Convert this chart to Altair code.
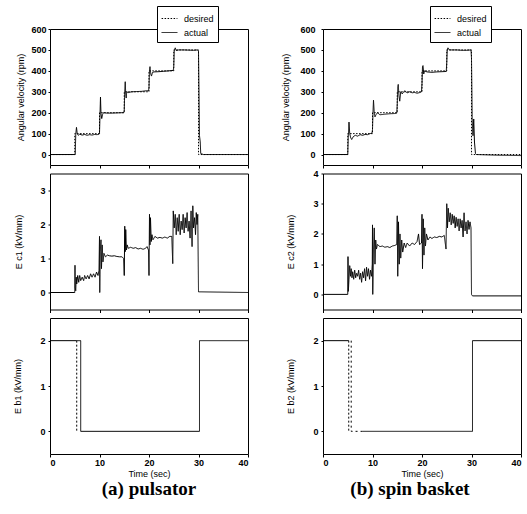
import altair as alt
import pandas as pd

# ---------------- data ----------------
# desired angular velocity (rpm), step profile (same for both machines)
DES_T = [0, 5, 5, 10, 10, 15, 15, 20, 20, 25, 25, 30, 30, 40]
DES_V = [0, 0, 100, 100, 200, 200, 300, 300, 400, 400, 500, 500, 0, 0]

# (a) pulsator: actual angular velocity
PA_T = [0, 5.0, 5.1, 5.2, 5.35, 5.5, 5.7, 6, 6.5, 7, 7.5, 8, 8.5, 9, 9.5, 9.9,
        10.0, 10.1, 10.2, 10.3, 10.45, 10.6, 10.8, 11.5, 12.5, 13.5, 14.5, 14.9,
        15.0, 15.1, 15.2, 15.3, 15.4, 15.5, 15.8, 16.5, 17.5, 18.5, 19.5, 19.9,
        20.0, 20.1, 20.2, 20.35, 20.5, 20.7, 21, 22, 23, 24, 24.9,
        25.0, 25.1, 25.3, 25.5, 26, 27, 28, 29, 29.8, 30.0, 30.1, 30.2, 30.35, 30.45, 31, 40]
PA_V = [0, 0, 0, 95, 130, 100, 92, 97, 93, 96, 92, 95, 93, 96, 95, 97,
        100, 190, 275, 195, 172, 190, 200, 198, 198, 199, 200, 200,
        210, 300, 348, 290, 270, 300, 296, 300, 301, 302, 305, 305,
        320, 405, 420, 385, 375, 392, 395, 396, 398, 400, 402,
        420, 495, 510, 497, 500, 500, 499, 498, 500, 495, 300, 90, 60, 5, 0, 0]

# (b) spin basket: actual angular velocity
SA_T = [0, 5.0, 5.1, 5.25, 5.4, 5.6, 5.8, 6.1, 6.5, 7, 7.5, 8, 8.5, 9, 9.5, 9.9,
        10.0, 10.1, 10.2, 10.35, 10.5, 10.7, 11, 11.5, 12.5, 13.5, 14.5, 14.9,
        15.0, 15.1, 15.2, 15.35, 15.5, 15.7, 16, 16.5, 17, 17.5, 18, 18.5, 19, 19.5, 19.9,
        20.0, 20.1, 20.2, 20.35, 20.5, 21, 22, 23, 24, 24.9,
        25.0, 25.1, 25.25, 25.5, 26, 27, 28, 29, 29.9, 30.0, 30.15, 30.3, 30.45, 30.6, 30.8, 31, 35, 40]
SA_V = [0, 0, 80, 155, 100, 80, 72, 85, 92, 88, 95, 92, 96, 95, 100, 102,
        120, 200, 260, 200, 180, 190, 200, 190, 193, 195, 196, 198,
        240, 320, 335, 280, 255, 300, 290, 305, 295, 300, 295, 297, 293, 296, 300,
        340, 420, 425, 385, 400, 395, 393, 395, 396, 397,
        440, 500, 510, 500, 500, 500, 498, 498, 500, 460, 160, 90, 170, 60, 5, 0, -3, -5]

# (a) pulsator: E_c1 (kV/mm)
C1_T = [0, 5.0, 5.05, 5.1, 5.2, 5.3, 5.4, 5.6, 5.8, 6.0, 6.2, 6.5, 6.8, 7.0, 7.3, 7.6, 7.9,
        8.2, 8.5, 8.8, 9.1, 9.4, 9.7, 9.9,
        10.0, 10.05, 10.15, 10.3, 10.4, 10.55, 10.7, 10.9, 11.2, 11.6, 12, 12.5, 13, 13.5, 14,
        14.5, 14.9, 15.0,
        15.1, 15.2, 15.3, 15.45, 15.6, 15.8, 16.3, 16.8, 17.3, 17.8, 18.3, 18.8, 19.3, 19.6,
        19.9, 20.0,
        20.1, 20.2, 20.3, 20.45, 20.6, 20.8, 21.2, 21.7, 22.2, 22.7, 23.2, 23.7, 24.2, 24.6,
        24.8, 24.9, 25.1, 25.3, 25.5, 25.7, 25.9, 26.1, 26.3, 26.5, 26.7, 26.9, 27.1, 27.3,
        27.5, 27.7, 27.9, 28.1, 28.3, 28.5, 28.7, 28.85, 29.0, 29.2, 29.4, 29.55, 29.7, 29.85,
        30.0, 40]
C1_V = [0, 0, 0.8, 0.15, 0.05, 0.45, 0.25, 0.5, 0.3, 0.5, 0.35, 0.45, 0.35, 0.5, 0.4, 0.5, 0.4,
        0.55, 0.45, 0.55, 0.45, 0.6, 0.5, 0.65,
        1.65, 0.0, 1.2, 1.55, 0.7, 1.4, 0.9, 1.15, 1.05, 1.1, 1.08, 1.07, 1.08, 1.06, 1.05,
        1.05, 1.0, 0.5,
        1.95, 1.2, 1.85, 1.25, 1.4, 1.3, 1.33, 1.3, 1.32, 1.28, 1.3, 1.27, 1.3, 1.35,
        1.25, 0.5,
        2.3, 1.4, 2.2, 1.5, 1.7, 1.55, 1.65, 1.6, 1.62, 1.6, 1.63, 1.6, 1.65, 1.65,
        0.85, 2.4, 1.9, 2.3, 1.7, 2.2, 1.8, 2.3, 1.7, 2.1, 1.85, 2.3, 1.75, 2.2,
        1.9, 2.35, 1.8, 2.1, 1.6, 2.4, 1.35, 2.55, 1.9, 2.2, 1.7, 2.35, 2.0, 2.3,
        0.02, 0]

# (b) spin basket: E_c2 (kV/mm)
C2_T = [0, 5.0, 5.05, 5.12, 5.25, 5.4, 5.55, 5.7, 5.85, 6.0, 6.2, 6.4, 6.6, 6.8, 7.0, 7.2,
        7.4, 7.6, 7.8, 8.0, 8.2, 8.4, 8.6, 8.8, 9.0, 9.2, 9.4, 9.6, 9.8, 9.95,
        10.0, 10.05, 10.2, 10.35, 10.5, 10.65, 10.8, 11, 11.5, 12, 12.5, 13, 13.5, 14, 14.5, 14.9,
        15.0, 15.1, 15.25, 15.4, 15.55, 15.7, 15.9, 16.1, 16.4, 16.7, 17, 17.5, 18, 18.5, 19.0,
        19.3, 19.5, 19.9,
        20.0, 20.1, 20.25, 20.4, 20.55, 20.7, 20.9, 21.2, 21.6, 22, 22.5, 23, 23.5, 24, 24.5, 24.85,
        25.0, 25.15, 25.3, 25.5, 25.7, 25.9, 26.1, 26.3, 26.5, 26.7, 26.9, 27.1, 27.3, 27.5,
        27.7, 27.9, 28.1, 28.3, 28.5, 28.7, 28.9, 29.1, 29.3, 29.5, 29.7, 29.9,
        30.0, 30.2, 40]
C2_V = [0, 0, 1.25, 0.1, 0.5, 0.95, 0.6, 0.85, 0.55, 0.75, 0.5, 0.8, 0.55, 0.7, 0.6, 0.8,
        0.5, 0.7, 0.4, 0.75, 0.55, 0.85, 0.45, 0.9, 0.6, 0.85, 0.5, 0.8, 0.6, 1.0,
        2.3, 0.0, 1.5, 2.2, 1.0, 1.8, 1.5, 1.65, 1.58, 1.6, 1.56, 1.58, 1.55, 1.6, 1.62, 1.65,
        2.6, 0.6, 2.4, 1.0, 2.0, 1.2, 1.8, 1.4, 1.7, 1.55, 1.7, 1.6, 1.7, 1.65, 1.75,
        2.0, 1.65, 1.7,
        2.65, 0.85, 2.5, 1.3, 2.2, 1.6, 2.0, 1.8, 1.9, 1.85, 1.9, 1.88, 1.92, 1.9, 1.95, 1.5,
        3.0, 2.2, 2.85, 2.4, 2.7, 2.3, 2.65, 2.35, 2.6, 2.2, 2.55, 2.25, 2.5, 2.1,
        2.5, 2.2, 2.45, 1.9, 2.7, 2.1, 2.4, 2.0, 2.45, 2.15, 2.4, 2.2,
        0.0, -0.05, -0.05]

# (a) pulsator: E_b1 (kV/mm), piecewise segments
B1_SEG = ["s1", "s1", "d1", "d1", "s2", "s2", "s2", "s2", "s2", "s2"]
B1_T = [0, 5.4, 5.4, 5.4, 5.4, 6.2, 6.2, 30.2, 30.2, 40]
B1_V = [2, 2, 2, 0, 2, 2, 0, 0, 2, 2]

# (b) spin basket: E_b2 (kV/mm), piecewise segments
B2_SEG = ["s1", "s1", "d1", "d1", "d2", "d2", "d2", "s2", "s2", "s2", "s2"]
B2_T = [0, 5.2, 5.2, 5.2, 5.7, 5.7, 8, 8, 30.2, 30.2, 40]
B2_V = [2, 2, 2, 0, 2, 0, 0, 0, 0, 2, 2]

SERIES = ["desired", "actual"]
SEGS = ["s1", "s2", "d1", "d2"]
X_TICKS = [0, 10, 20, 30, 40]


def frame(parts):
    rows = []
    for name, ts, vs in parts:
        for i, (t, v) in enumerate(zip(ts, vs)):
            rows.append({"t": t, "v": v, "series": name, "i": i})
    return pd.DataFrame(rows)


def seg_frame(segs, ts, vs):
    return pd.DataFrame({"t": ts, "v": vs, "series": segs, "i": list(range(len(ts)))})


LEGEND = alt.Legend(
    orient="none", legendX=107, legendY=-23, title=None,
    strokeColor="black", fillColor="white", padding=4,
    symbolType="stroke", symbolSize=250, symbolStrokeWidth=1,
    symbolStrokeColor="black", labelFont="Liberation Sans",
    labelFontSize=9, rowPadding=0, labelOffset=6,
)


def panel(df, ydom, yvals, ytitle, title_x, label_pad, bottom=False,
          kind="vel", caption=None, cap_dx=0):
    x = alt.X("t:Q", scale=alt.Scale(domain=[0, 40], nice=False, zero=False),
              axis=alt.Axis(values=X_TICKS, labels=bottom, tickSize=3,
                            title="Time (sec)" if bottom else None,
                            labelPadding=1, titlePadding=2, format="d"))
    y = alt.Y("v:Q", scale=alt.Scale(domain=ydom, nice=False, zero=False),
              axis=alt.Axis(values=yvals, title=ytitle, titleX=title_x,
                            labelPadding=label_pad, tickSize=2, format="d"))
    if kind == "vel":
        dash = alt.StrokeDash("series:N",
                              scale=alt.Scale(domain=SERIES, range=[[1.5, 1.5], [1, 0]]),
                              legend=LEGEND)
    elif kind == "seg":
        dash = alt.StrokeDash("series:N",
                              scale=alt.Scale(domain=SEGS, range=[[1, 0], [1, 0], [2, 2], [2, 3]]),
                              legend=None)
    else:
        dash = alt.StrokeDash("series:N", legend=None)
    enc = dict(x=x, y=y, order="i:Q", detail="series:N", strokeDash=dash)
    ch = alt.Chart(df).mark_line(color="black", strokeWidth=1, clip=True).encode(**enc)
    props = dict(width=198, height=136)
    if caption:
        props["title"] = alt.TitleParams(
            text=caption, orient="bottom", anchor="middle", frame="group",
            font="Liberation Serif", fontSize=19, fontWeight="bold",
            color="black", offset=2, dx=cap_dx)
    return ch.properties(**props)


vel_a = frame([("desired", DES_T, DES_V), ("actual", PA_T, PA_V)])
vel_b = frame([("desired", DES_T, DES_V), ("actual", SA_T, SA_V)])
ec1 = frame([("actual", C1_T, C1_V)])
ec2 = frame([("actual", C2_T, C2_V)])
eb1 = seg_frame(B1_SEG, B1_T, B1_V)
eb2 = seg_frame(B2_SEG, B2_T, B2_V)

panels = [
    panel(vel_a, [-50, 600], [0, 100, 200, 300, 400, 500, 600],
          "Angular velocity (rpm)", -25, 2, kind="vel"),
    panel(vel_b, [-50, 600], [0, 100, 200, 300, 400, 500, 600],
          "Angular velocity (rpm)", -33, 6, kind="vel"),
    panel(ec1, [-0.5, 3.5], [0, 1, 2, 3], "E c1 (kV/mm)", -27, 3, kind="line"),
    panel(ec2, [-0.5, 4], [0, 1, 2, 3, 4], "E c2 (kV/mm)", -28, 3, kind="line"),
    panel(eb1, [-0.5, 2.5], [0, 1, 2], "E b1 (kV/mm)", -28, 3, bottom=True,
          kind="seg", caption="(a) pulsator", cap_dx=0),
    panel(eb2, [-0.5, 2.5], [0, 1, 2], "E b2 (kV/mm)", -28, 3, bottom=True,
          kind="seg", caption="(b) spin basket", cap_dx=-12),
]

chart = alt.concat(
    *panels, columns=2, bounds="flush",
    spacing=alt.RowColnumber(row=8.5, column=75),
).resolve_scale(
    x="independent", y="independent", strokeDash="independent"
).resolve_legend(
    strokeDash="independent"
).properties(
    padding={"left": 12, "top": 5, "right": 1, "bottom": 5},
    background="white",
).configure_view(
    stroke="black", strokeWidth=1
).configure_axis(
    domain=False, grid=False, tickColor="black",
    labelFont="Liberation Sans", labelFontSize=9, labelFontWeight="bold",
    labelColor="black", titleFont="Liberation Sans", titleFontSize=9,
    titleFontWeight="normal", titleColor="black",
)

chart.save("out.html", embed_options={"renderer": "svg", "actions": False})
